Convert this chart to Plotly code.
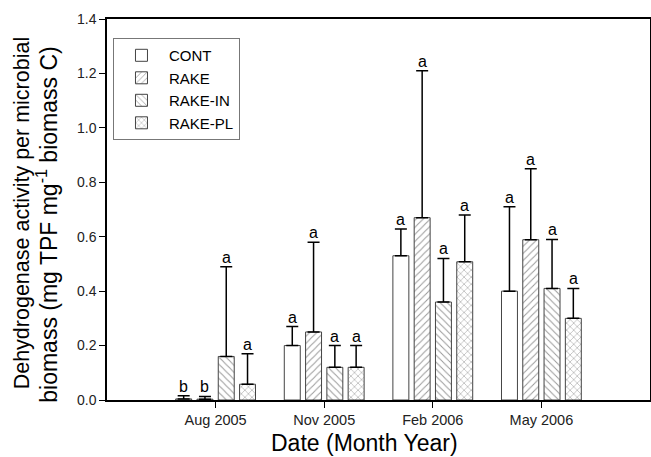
import plotly.graph_objects as go

dates = ["Aug 2005", "Nov 2005", "Feb 2006", "May 2006"]
series_names = ["CONT", "RAKE", "RAKE-IN", "RAKE-PL"]
cont = [0.004, 0.20, 0.53, 0.40]
rake = [0.003, 0.25, 0.67, 0.589]
rake_in = [0.16, 0.12, 0.36, 0.41]
rake_pl = [0.058, 0.12, 0.508, 0.30]
cont_err = [0.012, 0.07, 0.098, 0.31]
rake_err = [0.010, 0.33, 0.54, 0.261]
rake_in_err = [0.33, 0.08, 0.16, 0.18]
rake_pl_err = [0.112, 0.08, 0.172, 0.11]
cont_sig = ["b", "a", "a", "a"]
rake_sig = ["b", "a", "a", "a"]
rake_in_sig = ["a", "a", "a", "a"]
rake_pl_sig = ["a", "a", "a", "a"]
y_ticks = [0.0, 0.2, 0.4, 0.6, 0.8, 1.0, 1.2, 1.4]
x_title = "Date (Month Year)"
y_title_line1 = "Dehydrogenase activity per microbial"
y_title_line2 = "biomass (mg TPF mg<sup>-1</sup> biomass C)"

values = [cont, rake, rake_in, rake_pl]
errs = [cont_err, rake_err, rake_in_err, rake_pl_err]
sigs = [cont_sig, rake_sig, rake_in_sig, rake_pl_sig]
patterns = ["", "/", "\\", "x"]

FONT = "Liberation Sans, Arial, sans-serif"
pitch = 0.196
width = 0.147
xs = list(range(len(dates)))

fig = go.Figure()
annotations = []
for k, name in enumerate(series_names):
    offset = -2 * pitch + (pitch - width) / 2 + k * pitch
    fig.add_trace(go.Bar(
        name=name, x=xs, y=values[k], width=width, offset=offset,
        marker=dict(color="white", line=dict(color="#444444", width=1),
                    pattern=dict(shape=patterns[k], fgcolor="#333333", bgcolor="white",
                                 size=5, solidity=0.2)),
        error_y=dict(type="data", symmetric=False, array=errs[k],
                     arrayminus=[0] * len(xs), color="black", thickness=1.5, width=6),
    ))
    for i in xs:
        annotations.append(dict(
            x=i + offset + width / 2, y=values[k][i] + errs[k][i], xref="x", yref="y",
            text=sigs[k][i], showarrow=False, yanchor="bottom", yshift=-1,
            font=dict(family=FONT, size=16, color="black")))

annotations.append(dict(
    x=0.475, y=-0.074, xref="paper", yref="paper", text=x_title, showarrow=False,
    xanchor="center", yanchor="top", font=dict(family=FONT, size=23, color="black")))
annotations.append(dict(
    x=-0.1565, y=0.49, xref="paper", yref="paper", text=y_title_line1, showarrow=False,
    textangle=-90, xanchor="center", yanchor="middle",
    font=dict(family=FONT, size=21.5, color="black")))
annotations.append(dict(
    x=-0.1105, y=0.46, xref="paper", yref="paper", text=y_title_line2, showarrow=False,
    textangle=-90, xanchor="center", yanchor="middle",
    font=dict(family=FONT, size=23, color="black")))

fig.update_layout(
    width=651, height=457, autosize=False,
    margin=dict(l=107, r=1, t=19, b=57, autoexpand=False),
    paper_bgcolor="white", plot_bgcolor="white",
    font=dict(family=FONT, color="black"),
    barmode="overlay",
    showlegend=True,
    legend=dict(x=0.011, y=0.95, xanchor="left", yanchor="top",
                bordercolor="#777777", borderwidth=1, bgcolor="white",
                font=dict(family=FONT, size=15, color="black"),
                itemwidth=45),
    annotations=annotations,
    xaxis=dict(range=[-1, 4], tickvals=xs, ticktext=dates, ticks="outside", ticklen=6,
               tickcolor="black", showline=True, linecolor="black", linewidth=1.5,
               mirror=True, showgrid=False, zeroline=False, automargin=False,
               tickfont=dict(family=FONT, size=14.5, color="#222222")),
    yaxis=dict(range=[0, 1.4], tickvals=y_ticks, tickformat=".1f", ticks="outside", ticklen=6,
               tickcolor="black", showline=True, linecolor="black", linewidth=1.5,
               mirror=True, showgrid=False, zeroline=False, automargin=False,
               tickfont=dict(family=FONT, size=14, color="#222222")),
)

fig.write_html(
    "out.html",
    config={"responsive": False, "displayModeBar": False},
    post_script=("document.documentElement.style.overflow='hidden';"
                 "document.body.style.margin='0';document.body.style.overflow='hidden';"),
)
